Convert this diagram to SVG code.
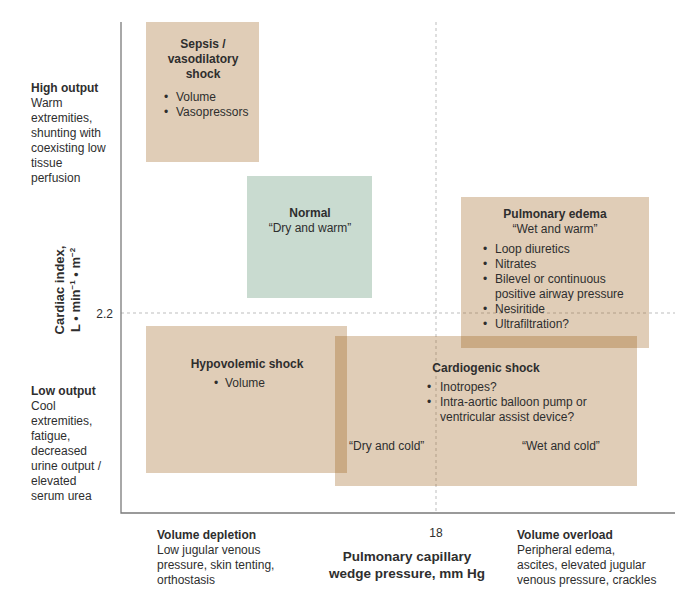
<svg xmlns="http://www.w3.org/2000/svg" width="696" height="599" viewBox="0 0 696 599">
<style>
text{font-family:"Liberation Sans",Arial,sans-serif;font-size:12px;fill:#2e2e2e}
.b{font-weight:bold}
.m{text-anchor:middle}
.e{text-anchor:end}
.box{fill:rgb(152,88,18);fill-opacity:0.3}
.grn{fill:#c9dbd0}
.dash{stroke:#bdbdbd;stroke-width:1;stroke-dasharray:3,3;fill:none}
.axis{stroke:#7a7a7a;stroke-width:1.3;fill:none}
</style>
<rect width="696" height="599" fill="#fff"/>
<g id="connectors">
<line class="dash" x1="436" y1="22" x2="436" y2="513"/>
<line class="dash" x1="121" y1="313" x2="675" y2="313"/>
<polyline class="axis" points="121,22 121,513 675,513"/>
</g>
<g id="sepsis">
<rect class="box" x="146" y="22" width="113" height="140"/>
<text class="b m" x="203" y="48">Sepsis /</text>
<text class="b m" x="203" y="63">vasodilatory</text>
<text class="b m" x="203" y="78">shock</text>
<text x="164" y="101">•</text><text x="176" y="101">Volume</text>
<text x="164" y="116">•</text><text x="176" y="116">Vasopressors</text>
</g>
<g id="normal">
<rect class="grn" x="247" y="176" width="125" height="122"/>
<text class="b m" x="310" y="217">Normal</text>
<text class="m" x="310" y="232">“Dry and warm”</text>
</g>
<g id="hypovolemic">
<rect class="box" x="146" y="326" width="201" height="147"/>
<text class="b m" x="247" y="368">Hypovolemic shock</text>
<text x="214" y="387">•</text><text x="225" y="387">Volume</text>
</g>
<g id="cardiogenic">
<rect class="box" x="335" y="336" width="302" height="150"/>
<text class="b m" x="486" y="372">Cardiogenic shock</text>
<text x="427" y="391">•</text><text x="440" y="391">Inotropes?</text>
<text x="427" y="406">•</text><text x="440" y="406">Intra-aortic balloon pump or</text>
<text x="440" y="421">ventricular assist device?</text>
<text x="349" y="450">“Dry and cold”</text>
<text x="522" y="450">“Wet and cold”</text>
</g>
<g id="pulmonary">
<rect class="box" x="461" y="197" width="188" height="151"/>
<text class="b m" x="555" y="218">Pulmonary edema</text>
<text class="m" x="555" y="233">“Wet and warm”</text>
<text x="483" y="253">•</text><text x="495" y="253">Loop diuretics</text>
<text x="483" y="268">•</text><text x="495" y="268">Nitrates</text>
<text x="483" y="283">•</text><text x="495" y="283">Bilevel or continuous</text>
<text x="495" y="298">positive airway pressure</text>
<text x="483" y="313">•</text><text x="495" y="313">Nesiritide</text>
<text x="483" y="328">•</text><text x="495" y="328">Ultrafiltration?</text>
</g>
<g id="high-output">
<text class="b" x="31" y="92">High output</text>
<text x="31" y="107">Warm</text>
<text x="31" y="122">extremities,</text>
<text x="31" y="137">shunting with</text>
<text x="31" y="152">coexisting low</text>
<text x="31" y="167">tissue</text>
<text x="31" y="182">perfusion</text>
</g>
<g id="low-output">
<text class="b" x="31" y="395">Low output</text>
<text x="31" y="410">Cool</text>
<text x="31" y="425">extremities,</text>
<text x="31" y="440">fatigue,</text>
<text x="31" y="455">decreased</text>
<text x="31" y="470">urine output /</text>
<text x="31" y="485">elevated</text>
<text x="31" y="500">serum urea</text>
</g>
<g id="y-axis-label">
<text class="b m" style="font-size:13px" transform="translate(64,290) rotate(-90)">Cardiac index,</text>
<text class="b m" style="font-size:13px" transform="translate(80,290) rotate(-90)">L • min<tspan dy="-5" style="font-size:8px">−1</tspan><tspan dy="5"> • m</tspan><tspan dy="-5" style="font-size:8px">−2</tspan></text>
<text class="e" x="113" y="318">2.2</text>
</g>
<g id="x-axis-label">
<text class="m" x="436" y="537">18</text>
<text class="b m" style="font-size:13.5px" x="407" y="561">Pulmonary capillary</text>
<text class="b m" style="font-size:13.5px" x="407" y="578">wedge pressure, mm Hg</text>
</g>
<g id="volume-depletion">
<text class="b" x="157" y="539">Volume depletion</text>
<text x="157" y="554">Low jugular venous</text>
<text x="157" y="569">pressure, skin tenting,</text>
<text x="157" y="584">orthostasis</text>
</g>
<g id="volume-overload">
<text class="b" x="517" y="539">Volume overload</text>
<text x="517" y="554">Peripheral edema,</text>
<text x="517" y="569">ascites, elevated jugular</text>
<text x="517" y="584">venous pressure, crackles</text>
</g>
</svg>
